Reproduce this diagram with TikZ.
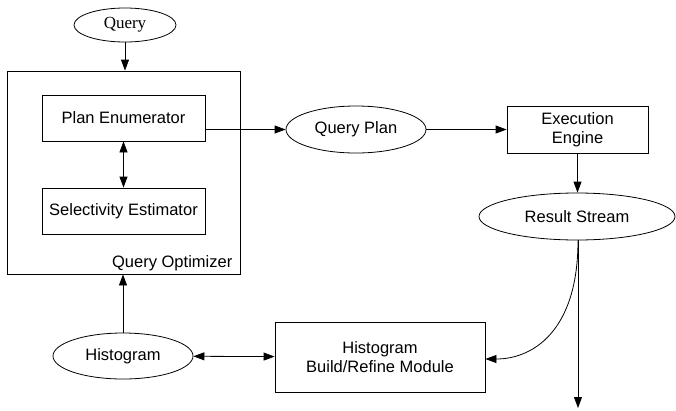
\documentclass[tikz,border=0pt]{standalone}
\usepackage{fontspec}
\setmainfont{Liberation Sans}
\newfontfamily\timesfont{Liberation Serif}
\usetikzlibrary{calc,shapes,arrows.meta}

\begin{document}
\begin{tikzpicture}[x=1pt,y=-1pt,line width=0.8pt,
    >={Triangle[length=11pt,width=8pt]},
    box/.style={draw,rectangle,inner sep=0pt,align=center,font=\fontsize{16.5}{19}\selectfont},
    oval/.style={draw,ellipse,inner sep=0pt,font=\fontsize{16.5}{19}\selectfont}]
          \useasboundingbox (0,0) rectangle (676,410);
          \node[oval,minimum width=102pt,minimum height=34pt,font=\timesfont\fontsize{17}{19}\selectfont] (qry) at (125,25) {Query};
          \node[box,minimum width=233pt,minimum height=203pt] (opt) at (123.5,172.5) {};
          \node[anchor=base east,font=\fontsize{16.5}{19}\selectfont] (optlbl) at (236,267) {Query Optimizer};
          \node[box,minimum width=163pt,minimum height=46pt] (planenum) at (123.5,118) {Plan Enumerator};
          \node[box,minimum width=163pt,minimum height=46pt] (selest) at (123.5,211) {Selectivity Estimator};
          \node[oval,minimum width=140pt,minimum height=47pt] (qplan) at (356,129.5) {Query Plan};
          \node[box,minimum width=141pt,minimum height=47pt] (exeng) at (577.5,129.5) {Execution\\Engine};
          \node[oval,minimum width=196pt,minimum height=47pt] (rstream) at (577,216.5) {Result Stream};
          \node[oval,minimum width=140pt,minimum height=46pt] (hist) at (123,356) {Histogram};
          \node[box,minimum width=210pt,minimum height=70pt] (hbuild) at (380,357) {Histogram\\Build/Refine Module};
          \coordinate (sink) at (578,408);
          \path[->] (qry.south) edge (qry.south |- opt.north);
          \path[<->] (planenum) edge (selest);
          \path[->] (planenum.east |- qplan.west) edge (qplan);
          \path[->] (qplan) edge (exeng);
          \path[->] (exeng) edge (exeng.south |- rstream.north);
          \path[->] (rstream.south -| sink) edge (sink);
          \draw[->] (rstream.south -| sink) .. controls (578,332) and (532,359) .. ($(hbuild.east)+(0,2)$);
          \path[->] (hist) edge (hist |- opt.south);
          \path[<->] (hist) edge (hbuild);
        \end{tikzpicture}
\end{document}
